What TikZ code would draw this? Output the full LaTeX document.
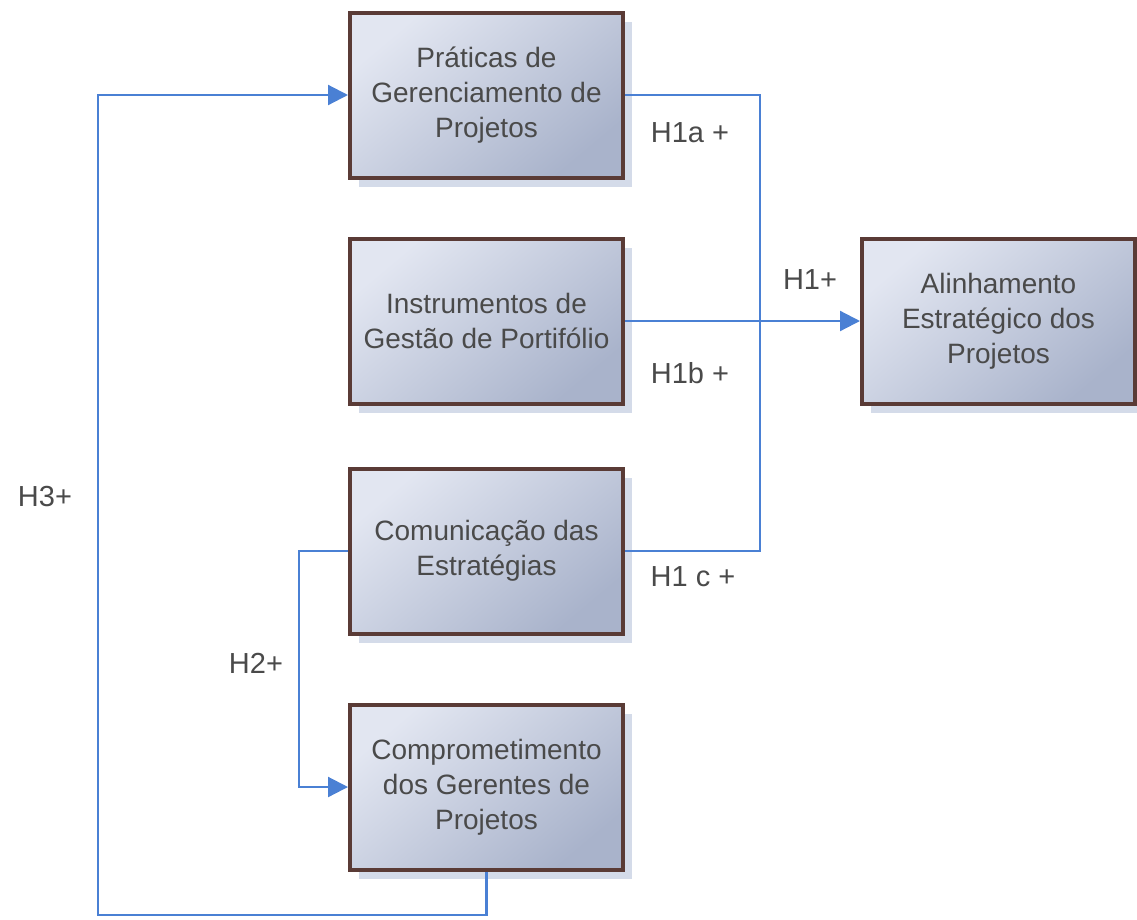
\documentclass[tikz,border=0pt]{standalone}
\usepackage{fontspec}
\setmainfont{Liberation Sans}
\usetikzlibrary{arrows.meta,shadows}
\definecolor{boxborder}{HTML}{5A3B36}
\definecolor{boxlight}{HTML}{E2E6F1}
\definecolor{boxdark}{HTML}{A9B3CB}
\definecolor{shadowc}{HTML}{C9D2E4}
\definecolor{linkc}{HTML}{4A80D4}
\definecolor{txtc}{HTML}{4A4A4A}
\tikzset{
  boxnode/.style={draw=boxborder, line width=4pt, minimum width=273pt, minimum height=165pt,
    inner sep=0pt, align=center, text=txtc, font=\fontsize{28}{35}\selectfont,
    top color=boxlight, bottom color=boxdark, shading angle=40,
    drop shadow={shadow xshift=9pt, shadow yshift=-9pt, fill=shadowc, opacity=0.8, draw=none}},
  link/.style={draw=linkc, line width=2.2pt},
  arrowlink/.style={link, -{Triangle[length=20pt,width=20pt]}},
  lbl/.style={text=txtc, font=\fontsize{29}{35}\selectfont, inner sep=0pt}
}
\begin{document}
\begin{tikzpicture}[x=1pt,y=-1pt]
\useasboundingbox (0,0) rectangle (1137,919);
\node[boxnode] (pr) at (486.5,95) {Práticas de\\Gerenciamento de\\Projetos};
\node[boxnode] (ig) at (486.5,321) {Instrumentos de\\Gestão de Portifólio};
\node[boxnode] (co) at (486.5,551) {Comunicação das\\Estratégias};
\node[boxnode] (cg) at (486.5,787) {Comprometimento\\dos Gerentes de\\Projetos};
\node[boxnode] (al) at (998.5,321) {Alinhamento\\Estratégico dos\\Projetos};
\coordinate (j) at (760,321);
\coordinate (h3) at (98,915);
\coordinate (h2) at (299,669);
\draw[link] (pr.east) -| (j) |- (co.east);
\draw[arrowlink] (ig.east) -- (al.west);
\draw[arrowlink] (co.west) -| (h2) |- (cg.west);
\draw[arrowlink] (cg.south) |- (h3) |- (pr.west);
\node[lbl] (la) at (690,133) {H1a +};
\node[lbl] (l1) at (810,280) {H1+};
\node[lbl] (lb) at (690,373) {H1b +};
\node[lbl] (lc) at (693,577) {H1 c +};
\node[lbl] (l3) at (45,497) {H3+};
\node[lbl] (l2) at (256,663) {H2+};
\end{tikzpicture}
\end{document}
